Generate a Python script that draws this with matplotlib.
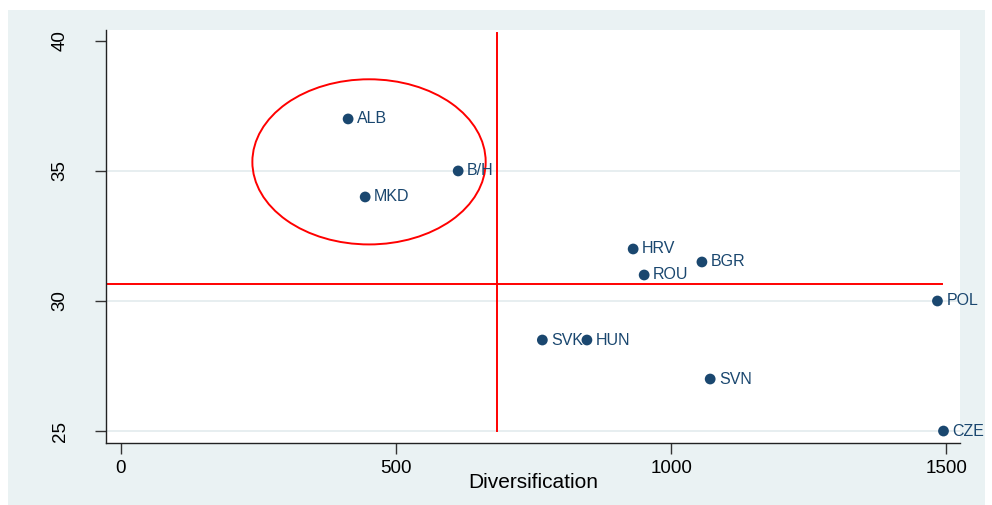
import matplotlib
matplotlib.use("Agg")
import matplotlib.pyplot as plt
from matplotlib.patches import Ellipse, Rectangle

plt.rcParams["font.family"] = ["Liberation Sans", "DejaVu Sans"]

countries = ["ALB", "B/H", "MKD", "HRV", "BGR", "ROU", "POL", "SVK", "HUN", "SVN", "CZE"]
diversification = [413, 613, 444, 931, 1056, 951, 1484, 766, 847, 1071, 1495]
yvals = [37.0, 35.0, 34.0, 32.0, 31.5, 31.0, 30.0, 28.5, 28.5, 27.0, 25.0]
xticks = [0, 500, 1000, 1500]
yticks = [25, 30, 35, 40]
vline_x = 684
hline_y = 30.65

navy = "#1a476f"
bg = "#eaf2f3"

fig = plt.figure(figsize=(9.92, 5.05), dpi=100)
fig.patch.set_facecolor("white")
fig.patches.append(Rectangle((8/992, 0), (985-8)/992, (505-10)/505,
                             transform=fig.transFigure, facecolor=bg,
                             edgecolor="none", zorder=-10))

ax = fig.add_axes([106/992, 1-443/505, (960-106)/992, (443-30)/505])
ax.set_facecolor("white")
ax.set_xlim(-27, 1525)
ax.set_ylim(24.54, 40.42)

for yt in [25, 30, 35]:
    ax.axhline(yt, color="#e3ebee", lw=1.2, zorder=0)

ax.scatter(diversification, yvals, s=60, color=navy, zorder=3, edgecolors="none")
for c, x, y in zip(countries, diversification, yvals):
    ax.annotate(c, (x, y), xytext=(6.5, 0), textcoords="offset points",
                va="center", ha="left", fontsize=11.5, color=navy, zorder=4)

ax.plot([vline_x, vline_x], [25.0, 40.3], color="red", lw=1.4, zorder=2)
ax.plot([-27, 1492], [hline_y, hline_y], color="red", lw=1.4, zorder=2)
ax.add_patch(Ellipse((451, 35.35), 424, 6.35, fill=False, edgecolor="red",
                     lw=1.4, zorder=2))

ax.set_xticks(xticks)
ax.set_yticks(yticks)
ax.set_yticklabels([str(t) for t in yticks], rotation=90, va="center")
ax.tick_params(axis="both", labelsize=13.5, length=8, width=1, color="#333333")
ax.tick_params(axis="y", pad=19)
ax.tick_params(axis="x", pad=4)
for s in ["top", "right"]:
    ax.spines[s].set_visible(False)
for s in ["left", "bottom"]:
    ax.spines[s].set_color("#222222")
    ax.spines[s].set_linewidth(1)
ax.set_xlabel("Diversification", fontsize=15, labelpad=-3)

fig.savefig("out.png", dpi=100, facecolor=fig.get_facecolor())
